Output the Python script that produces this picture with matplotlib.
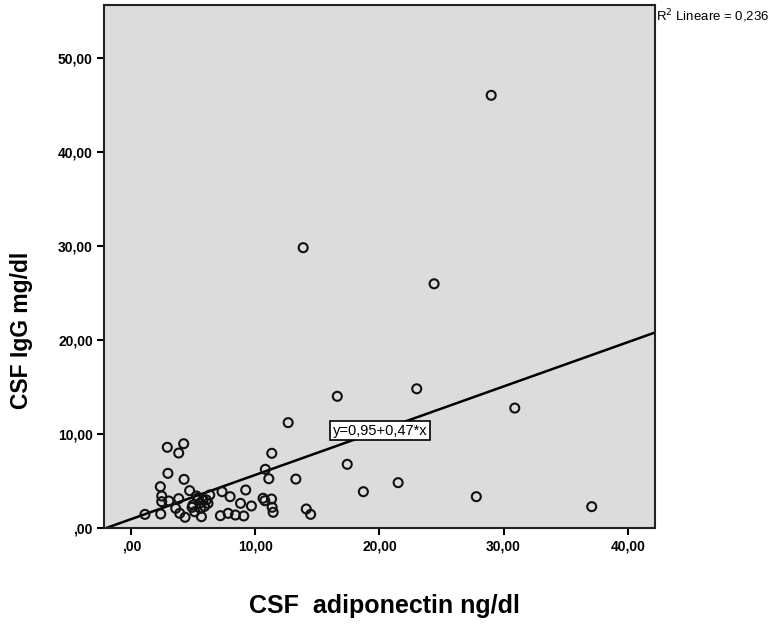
import matplotlib
matplotlib.use("Agg")
import matplotlib.pyplot as plt
from matplotlib.ticker import FuncFormatter, FixedLocator
import numpy as np

# Data
adiponectin = [1.1, 2.37, 2.9, 4.22, 3.82, 2.95, 4.25, 2.34, 2.45, 2.45, 3.03, 3.82,
               4.7, 3.58, 3.9, 4.33, 5.25, 4.97, 5.51, 5.78, 6.05, 5.57, 5.11, 5.65,
               6.32, 6.18, 5.4, 5.9, 4.9, 7.31, 7.96, 7.18, 7.8, 8.39, 9.06, 8.8,
               9.68, 9.22, 10.62, 10.76, 11.3, 11.35, 11.43, 10.8, 11.32, 11.08,
               13.26, 12.64, 13.85, 16.6, 17.4, 18.7, 21.5, 14.1, 14.45, 23.0,
               24.4, 29.0, 30.9, 27.8, 37.1]
igg = [1.45, 1.49, 8.58, 8.96, 7.97, 5.81, 5.17, 4.39, 3.40, 2.80, 2.87, 3.12,
       3.97, 2.09, 1.56, 1.14, 3.40, 2.44, 2.62, 2.98, 2.98, 2.09, 1.73, 1.20,
       3.51, 2.62, 3.2, 2.3, 2.2, 3.86, 3.33, 1.31, 1.56, 1.38, 1.28, 2.62,
       2.34, 4.04, 3.16, 2.90, 3.08, 2.20, 1.67, 6.24, 7.94, 5.24,
       5.20, 11.2, 29.8, 14.0, 6.77, 3.86, 4.82, 2.02, 1.45, 14.8,
       25.96, 46.0, 12.75, 3.33, 2.27]

intercept = 0.95
slope = 0.47
r2_text = "R$^2$ Lineare = 0,236"
eq_text = "y=0,95+0,47*x"
x_ticks = [0, 10, 20, 30, 40]
y_ticks = [0, 10, 20, 30, 40, 50]
x_label = "CSF  adiponectin ng/dl"
y_label = "CSF IgG mg/dl"

plt.rcParams['font.family'] = ['Liberation Sans', 'DejaVu Sans']

fig = plt.figure(figsize=(7.68, 6.25), dpi=100)
ax = fig.add_axes([104/768, 1-528/625, (655-104)/768, (528-5)/625])
ax.set_facecolor('#dcdcdc')

xmin, xmax = -2.2, 42.2
ax.set_xlim(xmin, xmax)
ax.set_ylim(0, 55.6)

xs = np.array([xmin, xmax])
ax.plot(xs, intercept + slope * xs, color='black', lw=1.8, zorder=2)

ax.scatter(adiponectin, igg, s=42, facecolors='none', edgecolors='#111111',
           linewidths=1.5, zorder=3)

def fmt(v, pos):
    s = f"{v:.2f}".replace('.', ',')
    if s.startswith('0,'):
        s = s[1:]
    return s

ax.xaxis.set_major_locator(FixedLocator(x_ticks))
ax.yaxis.set_major_locator(FixedLocator(y_ticks))
ax.xaxis.set_major_formatter(FuncFormatter(fmt))
ax.yaxis.set_major_formatter(FuncFormatter(fmt))
ax.tick_params(axis='both', direction='out', length=5, width=1.5, labelsize=10, pad=3)
for lbl in ax.get_xticklabels() + ax.get_yticklabels():
    lbl.set_fontweight('bold')
for sp in ax.spines.values():
    sp.set_linewidth(1.5)
    sp.set_color('#222222')

ax.text(20.04, 10.36, eq_text, ha='center', va='center', fontsize=10.5, zorder=4,
        bbox=dict(boxstyle='square,pad=0.2', facecolor='white', edgecolor='black', lw=1.2))

fig.text(656/768, 1-16/625, r2_text, ha='left', va='center', fontsize=9.5)

fig.text(384/768, 1-606/625, x_label, ha='center', va='center', fontsize=18, fontweight='bold')
fig.text(22/768, 1-330/625, y_label, ha='center', va='center', fontsize=16.5,
         fontweight='bold', rotation=90)

fig.savefig("out.png", dpi=100)
